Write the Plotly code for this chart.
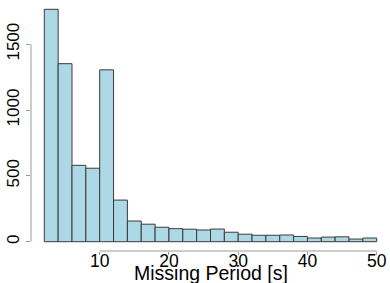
import plotly.graph_objects as go

bin_left = [2, 4, 6, 8, 10, 12, 14, 16, 18, 20, 22, 24, 26, 28, 30, 32, 34, 36, 38, 40, 42, 44, 46, 48]
bin_width = 2
counts = [1765, 1352, 580, 558, 1305, 316, 157, 133, 110, 99, 95, 89, 96, 72, 57, 49, 49, 51, 40, 28, 35, 37, 20, 28]
x_ticks = [10, 20, 30, 40, 50]
y_ticks = [0, 500, 1000, 1500]
x_title = "Missing Period [s]"

centers = [b + bin_width / 2 for b in bin_left]

fig = go.Figure()
fig.add_trace(go.Bar(
    x=centers, y=counts, width=[bin_width] * len(counts),
    marker=dict(color="#ADD8E6", line=dict(color="#3a3a3a", width=1)),
    hoverinfo="skip",
))

font = "Liberation Sans, Arial, sans-serif"
axis_col = "#9a9a9a"
xmin, xmax = bin_left[0], bin_left[-1] + bin_width
xpad = 0.04 * (xmax - xmin)
ymax = max(counts)
ypad = 0.04 * ymax

fig.update_layout(
    width=390, height=283,
    margin=dict(l=31, r=0, t=0, b=32),
    plot_bgcolor="white", paper_bgcolor="white",
    showlegend=False, bargap=0,
    font=dict(family=font, size=16, color="black"),
    xaxis=dict(range=[xmin - xpad, xmax + xpad], tickvals=x_ticks, ticktext=[str(v) for v in x_ticks],
               ticks="outside", ticklen=3, tickcolor=axis_col, showgrid=False, zeroline=False,
               showline=False, tickfont=dict(size=17.5), automargin=False, ticklabelstandoff=-9),
    yaxis=dict(range=[-ypad, ymax + ypad], tickvals=y_ticks, ticktext=[str(v) for v in y_ticks],
               ticks="outside", ticklen=4, tickcolor=axis_col, showgrid=False, zeroline=False,
               showline=False, tickangle=-90, tickfont=dict(size=17), automargin=False),
)
fig.add_shape(type="line", xref="x", yref="paper", x0=min(x_ticks), x1=max(x_ticks), y0=0, y1=0,
              line=dict(color=axis_col, width=1))
fig.add_shape(type="line", xref="paper", yref="y", x0=0, x1=0, y0=min(y_ticks), y1=max(y_ticks),
              line=dict(color=axis_col, width=1))
fig.add_annotation(text=x_title, xref="paper", yref="paper", x=0.5, y=0, yanchor="top",
                   yshift=-9, showarrow=False, font=dict(size=19.5, color="black"))

fig.write_html("out.html", config={"displayModeBar": False, "staticPlot": True},
               post_script="document.body.style.margin='0';document.body.style.overflow='hidden';")
